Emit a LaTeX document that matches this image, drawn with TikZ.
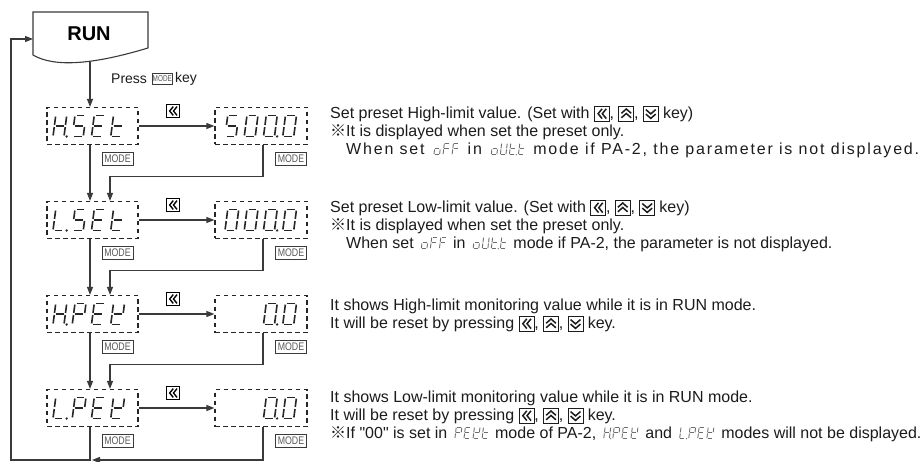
\documentclass[tikz,border=0pt]{standalone}
\usepackage{fontspec}
\setmainfont{Liberation Sans}
\newfontfamily\cjk{Noto Sans CJK JP}
\newfontfamily\plainfont{Liberation Sans}
\newfontfamily\spacedfont[LetterSpace=11.3]{Liberation Sans}
\usepackage{graphicx}
\usetikzlibrary{arrows.meta}

\definecolor{ln}{HTML}{3A3A3A}
\definecolor{segc}{HTML}{262626}
\definecolor{segg}{HTML}{6E6E6E}
\definecolor{txt}{HTML}{1C1C1C}

% seven-segment helpers (unit cell: width 1, height 2)
\newcommand\sga{\draw (0.14,2)--(0.86,2);}
\newcommand\sgb{\draw (1,1.9)--(1,1.1);}
\newcommand\sgc{\draw (1,0.9)--(1,0.1);}
\newcommand\sgd{\draw (0.14,0)--(0.86,0);}
\newcommand\sge{\draw (0,0.1)--(0,0.9);}
\newcommand\sgf{\draw (0,1.1)--(0,1.9);}
\newcommand\sgg{\draw (0.14,1)--(0.86,1);}
\newcommand\defseg[2]{\expandafter\def\csname segmap#1\endcsname{#2}}
\defseg{H}{b,c,e,f,g}
\defseg{S}{a,f,g,c,d}
\defseg{5}{a,f,g,c,d}
\defseg{E}{a,f,g,e,d}
\defseg{t}{f,e,g,d}
\defseg{L}{f,e,d}
\defseg{P}{a,b,f,g,e}
\defseg{K}{b,f,g,e,d}
\defseg{0}{a,b,c,d,e,f}
\defseg{o}{g,c,d,e}
\defseg{F}{a,f,g,e}
\defseg{U}{b,c,d,e,f}
\newcommand\segglyph[1]{%
  \begin{scope}[shift={(\segx,0)}]
    \expandafter\let\expandafter\seglist\csname segmap#1\endcsname
    \foreach \s in \seglist {\csname sg\s\endcsname}
  \end{scope}%
  \pgfmathsetmacro\segx{\segx+\segpitch}}
\newcommand\segdot{\fill (\segx-\segpitch+1.24,0) circle[radius=0.12];}
\def\segparse#1{\ifx#1\relax\let\segnext\relax\else
  \ifx#1.\segdot\else\segglyph{#1}\fi\let\segnext\segparse\fi\segnext}
\newcommand\segword[1]{\def\segx{0}\segparse#1\relax}
% big display word: bottom-left x, y (outer coords), word
\newcommand\bigseg[3]{%
  \begin{scope}[shift={(#1,#2)}, x=11pt, y=10.5pt, xslant=0.13,
      line width=1.6pt, segc]
    \def\segpitch{1.75}\segword{#3}
  \end{scope}}
% small inline display word
\newcommand\tseg[1]{\,\tikz[baseline=0pt, x=5.6pt, y=5.8pt, xslant=0.12,
    line width=0.9pt, segg]{\def\segpitch{1.62}\segword{#1}}\,}
% key icons
\newcommand\icoL{\tikz[baseline=2.5pt,x=1pt,y=1pt]{%
  \draw[line width=0.6pt] (0,0) rectangle (15,15);
  \draw[line width=1.5pt] (7.8,12.4)--(3.8,7.5)--(7.8,2.6) (12,12.4)--(8,7.5)--(12,2.6);}}
\newcommand\icoU{\tikz[baseline=2.5pt,x=1pt,y=1pt]{%
  \draw[line width=0.6pt] (0,0) rectangle (15,15);
  \draw[line width=1.5pt] (2.6,7.9)--(7.5,12.2)--(12.4,7.9) (2.6,3.4)--(7.5,7.7)--(12.4,3.4);}}
\newcommand\icoD{\tikz[baseline=2.5pt,x=1pt,y=1pt]{%
  \draw[line width=0.6pt] (0,0) rectangle (15,15);
  \draw[line width=1.5pt] (2.6,7.1)--(7.5,2.8)--(12.4,7.1) (2.6,11.6)--(7.5,7.3)--(12.4,11.6);}}
\newcommand\keys{\icoL, \icoU, \icoD}
\newcommand\refmark{{\cjk ※}}

\tikzset{
  arr/.style={draw=ln, line width=1.1pt, -{Triangle[length=8pt,width=6pt]}},
  wire/.style={draw=ln, line width=1.1pt},
  dbox/.style={draw=segc, line width=1.1pt, dash pattern=on 4.5pt off 3.5pt,
    minimum height=37pt, inner sep=0pt},
  lbox/.style={dbox, minimum width=91pt},
  rbox/.style={dbox, minimum width=92pt},
  modelbl/.style={draw=ln, line width=0.7pt, minimum width=31pt, minimum height=13pt,
    inner sep=0pt, text=black!65, font=\fontsize{11}{11}\selectfont},
  desc/.style={anchor=base west, inner sep=0pt, text=txt,
    font=\fontsize{16}{19}\selectfont},
  icon/.style={inner sep=0pt},
}

\begin{document}
\begin{tikzpicture}[x=1pt, y=-1pt]
\useasboundingbox (0,0) rectangle (923,462);
\fill[white] (0,0) rectangle (923,462);

% RUN document shape
\draw[ln, line width=1.1pt] (33,55) -- (33,12) -- (148,12) -- (148,48)
  .. controls (95,64) and (55,68) .. (33,55) -- cycle;
\node[font=\bfseries\fontsize{20}{20}\selectfont, text=black] (run) at (89,34) {RUN};
\coordinate (runL) at (33,39);
\coordinate (runB) at (90,61.5);

% Press MODE key
\node[anchor=west, inner sep=0pt, font=\fontsize{14}{14}\selectfont, text=txt] (press) at (111,79) {Press};
\node[draw=ln, line width=0.6pt, minimum width=20pt, minimum height=11pt, inner sep=0pt,
  text=black!65, font=\fontsize{8.5}{8.5}\selectfont, anchor=west] (pm) at (152,79)
  {\scalebox{0.75}[1]{MODE}};
\node[anchor=west, inner sep=0pt, font=\fontsize{14}{14}\selectfont, text=txt] (key) at (175,79) {key};

% display boxes
\node[lbox] (l1) at (92.5,126) {};
\node[rbox] (r1) at (261,126) {};
\node[lbox] (l2) at (92.5,220) {};
\node[rbox] (r2) at (261,220) {};
\node[lbox] (l3) at (92.5,314) {};
\node[rbox] (r3) at (261,314) {};
\node[lbox] (l4) at (92.5,408) {};
\node[rbox] (r4) at (261,408) {};

% display contents
\bigseg{53}{136.5}{H.SEt}
\bigseg{225}{136.5}{500.0}
\bigseg{53}{230.5}{L.SEt}
\bigseg{225}{230.5}{000.0}
\bigseg{53}{324.5}{H.PEK}
\bigseg{263.5}{324.5}{0.0}
\bigseg{53}{418.5}{L.PEK}
\bigseg{263.5}{418.5}{0.0}

% shift icons
\node[icon, scale=0.9] (k1) at (173,111) {\icoL};
\node[icon, scale=0.9] (k2) at (173,205) {\icoL};
\node[icon, scale=0.9] (k3) at (173,299) {\icoL};
\node[icon, scale=0.9] (k4) at (173,393) {\icoL};

% MODE labels
\foreach \r/\y in {1/126,2/220,3/314,4/408}{
  \node[modelbl] (ml\r) at (117.5,\y+32.5) {\scalebox{0.8}[1]{MODE}};
  \node[modelbl] (mr\r) at (291,\y+32.5) {\scalebox{0.8}[1]{MODE}};
}

% connectors
\draw[arr] (runB) -- ([xshift=-2.5pt]l1.north);
\foreach \a/\b in {1/2,2/3,3/4}{
  \draw[arr] ([xshift=-2.5pt]l\a.south) -- ([xshift=-2.5pt]l\b.north);
  \draw[arr] ([xshift=2pt]r\a.south) -- ++(0,31.5) -| ([xshift=17.5pt]l\b.north);
}
\foreach \a in {1,2,3,4}{
  \draw[arr] (l\a.east) -- (r\a.west);
}
\coordinate (bl) at (90,460);
\coordinate (bc) at (11,460);
\coordinate (br) at (263,460);
\draw[arr] ([xshift=-2.5pt]l4.south) -- (bl) -- (bc) |- (runL);
\draw[arr] ([xshift=2pt]r4.south) -- (br) -- ([xshift=2pt]bl);

% descriptions
\node[desc] (t11) at (330,118.7) {Set preset High-limit value. (Set with \keys{} key)};
\node[desc] (t12) at (330,136.7) {\refmark It is displayed when set the preset only.};
\node[desc] (t13) at (330,154.7) {\phantom{\refmark}{\spacedfont When set \tseg{oFF} in \tseg{oUt.t} mode if PA-2, the parameter is not displayed.}};

\node[desc] (t21) at (330,212.7) {Set preset Low-limit value. (Set with \keys{} key)};
\node[desc] (t22) at (330,230.7) {\refmark It is displayed when set the preset only.};
\node[desc] (t23) at (330,248.7) {\phantom{\refmark}When set \tseg{oFF} in \tseg{oUt.t} mode if PA-2, the parameter is not displayed.};

\node[desc] (t31) at (330,310.7) {It shows High-limit monitoring value while it is in RUN mode.};
\node[desc] (t32) at (330,328.7) {It will be reset by pressing \keys{} key.};

\node[desc] (t41) at (330,402.7) {It shows Low-limit monitoring value while it is in RUN mode.};
\node[desc] (t42) at (330,420.7) {It will be reset by pressing \keys{} key.};
\node[desc] (t43) at (330,438.7) {\refmark If {\plainfont "00"} is set in \tseg{PEKt} mode of PA-2, \tseg{H.PEK} and \tseg{L.PEK} modes will not be displayed.};
\end{tikzpicture}
\end{document}
